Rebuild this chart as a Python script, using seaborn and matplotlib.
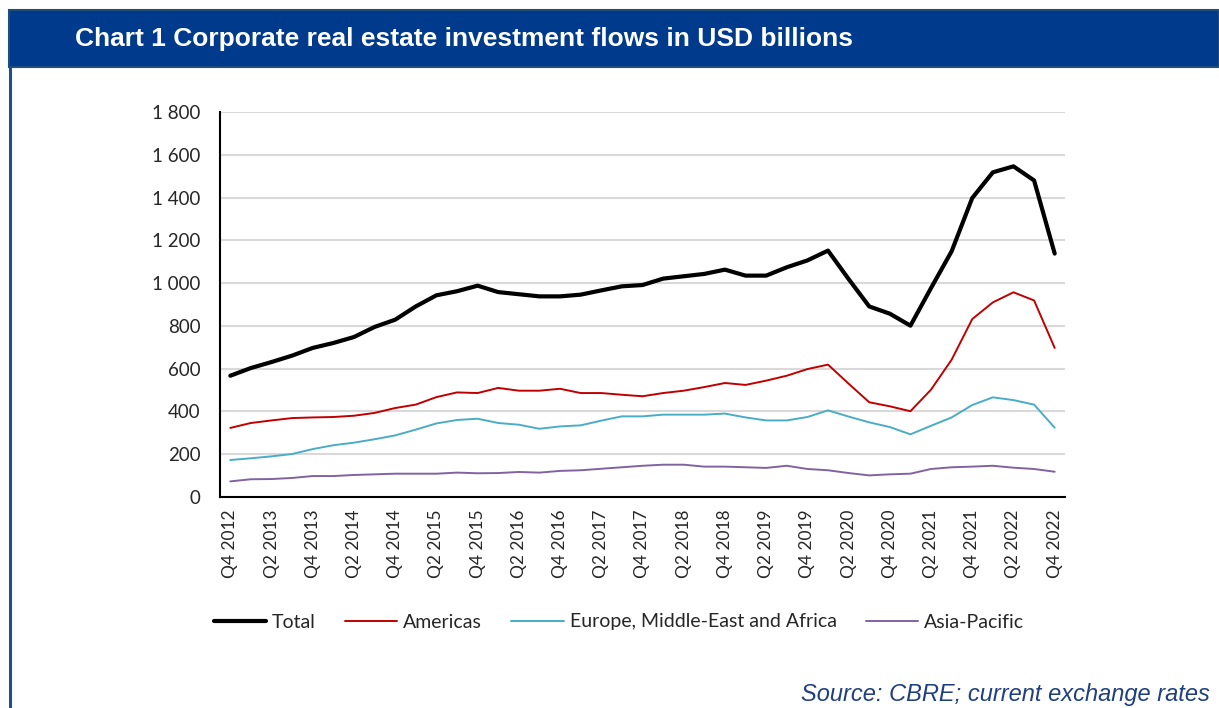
import matplotlib
matplotlib.use("Agg")
import matplotlib.pyplot as plt
from matplotlib.patches import Rectangle
from matplotlib.lines import Line2D
from matplotlib.ticker import FuncFormatter, FixedLocator, NullFormatter
import seaborn as sns
import pandas as pd
import numpy as np

# Quarterly corporate real estate investment flows, USD billions
quarters = ["Q4 2012"] + [f"Q{q} {y}" for y in range(2013, 2023) for q in (1, 2, 3, 4)]

total = [567, 603, 631, 661, 697, 720, 748, 795, 829, 891,
         943, 962, 988, 958, 948, 938, 938, 946, 966, 985,
         991, 1021, 1032, 1043, 1063, 1035, 1035, 1074, 1106, 1152,
         1019, 891, 857, 801, 977, 1149, 1398, 1518, 1546, 1480,
         1138]
americas = [323, 346, 358, 369, 372, 374, 380, 393, 416, 432,
            467, 489, 486, 510, 497, 497, 506, 486, 486, 478,
            471, 486, 497, 514, 533, 524, 544, 567, 598, 619,
            530, 443, 424, 401, 502, 642, 832, 910, 957, 919,
            697]
emea = [173, 181, 190, 201, 224, 242, 254, 270, 288, 315,
        344, 360, 366, 346, 338, 319, 330, 335, 357, 377,
        377, 385, 385, 385, 390, 372, 358, 358, 374, 405,
        376, 349, 327, 293, 333, 372, 430, 466, 453, 432,
        324]
apac = [73, 83, 84, 89, 98, 98, 103, 106, 109, 109,
        109, 114, 111, 112, 117, 114, 122, 125, 132, 139,
        146, 151, 151, 142, 142, 139, 136, 146, 131, 125,
        112, 101, 106, 109, 131, 139, 142, 146, 137, 131,
        118]

series_names = ["Total", "Americas", "Europe, Middle-East and Africa", "Asia-Pacific"]
series_values = [total, americas, emea, apac]
series_colors = ["#000000", "#C00000", "#4BACC6", "#8064A2"]
series_widths = [3.0, 1.4, 1.4, 1.4]

sns.set_style("white")
plt.rcParams["font.family"] = ["Lato", "DejaVu Sans"]

W, H = 1219, 708
fig = plt.figure(figsize=(W / 100, H / 100), dpi=100)

# Header band and frame line
fig.patches.append(Rectangle((9 / W, 1 - 67 / H), 1 - 9 / W, 57 / H, transform=fig.transFigure,
                             facecolor="#003A8C", edgecolor="#1F4E79", linewidth=1.5, zorder=0))
fig.lines.append(Line2D([10 / W, 10 / W], [0, 1 - 67 / H], transform=fig.transFigure,
                        color="#1F4E8C", linewidth=2.2))
fig.text(75 / W, 1 - 39 / H, "Chart 1 Corporate real estate investment flows in USD billions",
         color="white", fontsize=19, fontweight="bold", family="Liberation Sans",
         ha="left", va="center")

ax = fig.add_axes([220 / W, 1 - 497 / H, (1065 - 220) / W, (497 - 112) / H])

idx = np.arange(len(quarters))
for name, vals, col, lw in zip(series_names, series_values, series_colors, series_widths):
    df = pd.DataFrame({"idx": idx, "value": vals})
    sns.lineplot(data=df, x="idx", y="value", ax=ax, color=col, linewidth=lw,
                 label=name, legend=False, zorder=3)

ax.set_xlim(-0.5, len(quarters) - 0.5)
ax.set_ylim(0, 1800)
ax.set_yticks(range(0, 1801, 200))
ax.yaxis.set_major_formatter(FuncFormatter(lambda v, p: f"{int(v):,}".replace(",", " ")))
ax.grid(axis="y", color="#D9D9D9", linewidth=1.5)
ax.grid(axis="x", visible=False)

# Category boundaries as major ticks, every second quarter labelled
ax.xaxis.set_major_locator(FixedLocator(np.arange(-0.5, len(quarters), 1.0)))
ax.xaxis.set_major_formatter(NullFormatter())
label_pos = idx[::2]
ax.set_xticks(label_pos, minor=True)
ax.set_xticklabels([quarters[i] for i in label_pos], minor=True, rotation=90)
ax.tick_params(axis="x", which="major", direction="out", length=5, width=1.2, color="black")
ax.tick_params(axis="x", which="minor", length=0, pad=9, labelsize=12.5)
ax.tick_params(axis="y", direction="out", length=5, width=1.2, color="black", labelsize=13.5, pad=9)
ax.set_xlabel("")
ax.set_ylabel("")

for s in ["top", "right"]:
    ax.spines[s].set_visible(False)
for s in ["left", "bottom"]:
    ax.spines[s].set_color("black")
    ax.spines[s].set_linewidth(1.5)

handles, labels = ax.get_legend_handles_labels()
fig.legend(handles, labels, loc="center left", bbox_to_anchor=(196 / W, 1 - 622 / H),
           ncol=4, frameon=False, fontsize=14, handlelength=2.7, handletextpad=0.3,
           columnspacing=1.5)

fig.text(1210 / W, 1 - 694 / H, "Source: CBRE; current exchange rates", color="#1F3F7F",
         fontsize=17, style="italic", family="Liberation Sans", ha="right", va="center")

fig.savefig("out.png", dpi=100)
